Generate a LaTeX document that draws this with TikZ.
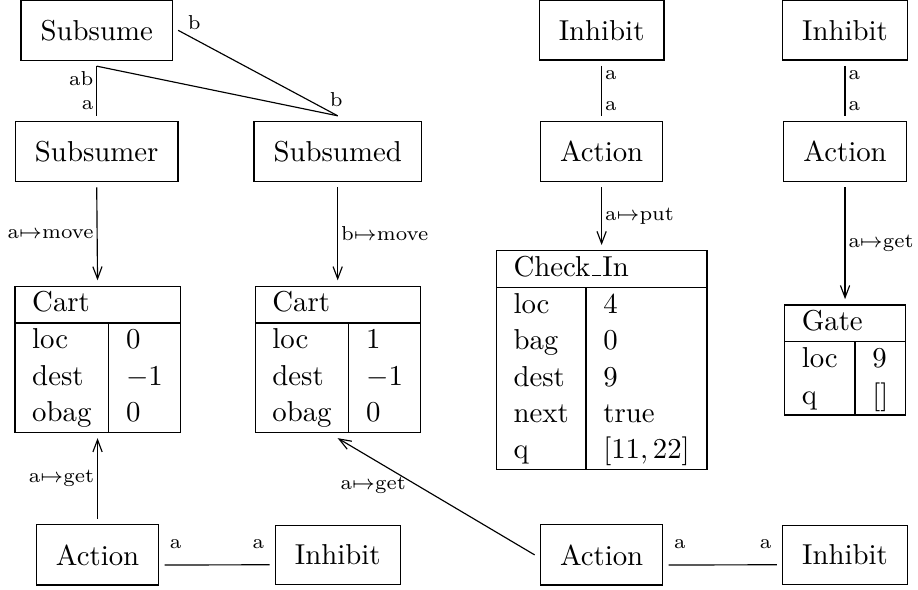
\documentclass[tikz,border=0pt]{standalone}
\usepackage{amsmath, amssymb}
\usepackage{tikz}
\usetikzlibrary{arrows.meta}
\renewcommand{\arraystretch}{1.05}
\newcommand{\uscore}{\leavevmode\kern.06em\vbox{\hrule width.3em}\kern.06em}
\tikzset{
    box/.style={draw, inner sep=6.8pt, outer sep=2pt},
    record/.style={draw, inner sep=0pt, outer sep=2pt, anchor=north},
    lbl/.style={font=\scriptsize, inner sep=1pt},
    endl/.style={lbl, anchor=south west, yshift=4.5pt, xshift=0.7pt},
    endr/.style={lbl, anchor=south east, yshift=4.5pt, xshift=-0.7pt},
    >={Straight Barb[length=4.2pt, width=3.2pt]},
}

\begin{document}
\begin{tikzpicture}
\useasboundingbox (0,0) rectangle (11.20,-7.19);
% top row
\node[box] (sume) at (1.18,-0.37) {Subsume};
\node[box] (inhA) at (7.34,-0.37) {Inhibit};
\node[box] (inhB) at (10.31,-0.37) {Inhibit};
\node[box] (sumer) at (1.18,-1.85) {Subsumer};
\node[box] (sumed) at (4.12,-1.85) {Subsumed};
\node[box] (actA) at (7.34,-1.85) {Action};
\node[box] (actB) at (10.31,-1.85) {Action};
% records
\node[record] (cartA) at (1.19,-3.42) {\begin{tabular}{l|l}
\multicolumn{2}{l}{Cart}\\ \hline
loc & 0\\
dest & $-1$\\
obag & 0
\end{tabular}};
\node[record] (cartB) at (4.12,-3.42) {\begin{tabular}{l|l}
\multicolumn{2}{l}{Cart}\\ \hline
loc & 1\\
dest & $-1$\\
obag & 0
\end{tabular}};
\node[record] (checkin) at (7.34,-2.99) {\begin{tabular}{l|l}
\multicolumn{2}{l}{Check\uscore In}\\ \hline
loc & 4\\
bag & 0\\
dest & 9\\
next & true\\
q & $[11,22]$
\end{tabular}};
\node[record] (gate) at (10.31,-3.65) {\begin{tabular}{l|l}
\multicolumn{2}{l}{Gate}\\ \hline
loc & 9\\
q & $[]$
\end{tabular}};
% bottom row
\node[box] (actC) at (1.19,-6.77) {Action};
\node[box] (inhC) at (4.12,-6.77) {Inhibit};
\node[box] (actD) at (7.34,-6.77) {Action};
\node[box] (inhD) at (10.31,-6.77) {Inhibit};
% links
\draw (sume.south) -- node[lbl, pos=0.25, left] {ab} node[lbl, pos=0.78, left] {a} (sumer.north);
\draw (sume.south) -- (sumed.north);
\draw (sume.east) -- node[lbl, pos=0.1, above=2pt] {b} node[lbl, pos=0.93, anchor=south west] {b} (sumed.north);
\draw (inhA.south) -- node[lbl, pos=0.18, right] {a} node[lbl, pos=0.8, right] {a} (actA.north);
\draw (inhB.south) -- node[lbl, pos=0.18, right] {a} node[lbl, pos=0.8, right] {a} (actB.north);
\draw (actC.base east) -- node[endl, pos=0] {a} node[endr, pos=1] {a} (inhC.base west);
\draw (actD.base east) -- node[endl, pos=0] {a} node[endr, pos=1] {a} (inhD.base west);
% actions
\draw[->] (sumer.south) -- node[lbl, left] {a$\mapsto$move} (cartA.north);
\draw[->] (sumed.south) -- node[lbl, right] {b$\mapsto$move} (cartB.north);
\draw[->] (actA.south) -- node[lbl, right] {a$\mapsto$put} (checkin.north);
\draw[->] (actB.south) -- node[lbl, right] {a$\mapsto$get} (gate.north);
\draw[->] (actC.north) -- node[lbl, left] {a$\mapsto$get} (cartA.south);
\draw[->] (actD.west) -- node[lbl, pos=0.6, left=2.5pt] {a$\mapsto$get} (cartB.south);
\end{tikzpicture}
\end{document}
